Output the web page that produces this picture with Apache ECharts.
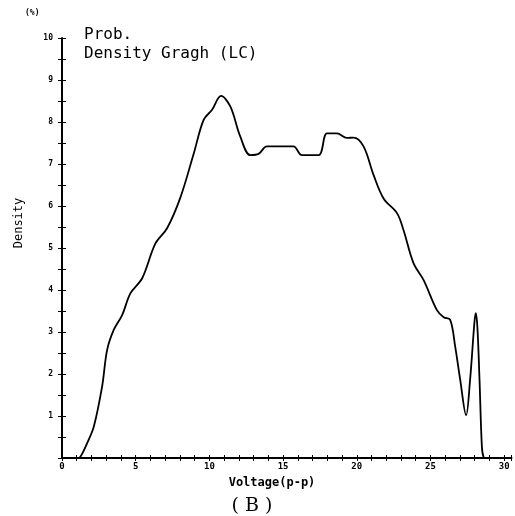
<!DOCTYPE html>
<html>
<head>
<meta charset="utf-8">
<script src="https://cdn.jsdelivr.net/npm/echarts@6/dist/echarts.min.js"></script>
<style>html,body{margin:0;padding:0;background:#fff}#c{width:515px;height:516px}</style>
</head>
<body>
<div id="c"></div>
<script>
var voltage = [0, 0.5, 1.0, 1.25, 1.7, 2.16, 2.72, 3.06, 3.51, 4.08, 4.64, 5.44, 6.34, 7.13, 8.03, 8.94, 9.61, 10.18, 10.79, 11.42, 12.1, 12.78, 13.34, 13.9, 14.81, 15.71, 16.28, 17.41, 17.98, 18.66, 19.33, 19.78, 20.46, 21.14, 21.82, 22.73, 23.17, 23.85, 24.53, 25.44, 25.9, 26.34, 26.68, 27.02, 27.42, 27.69, 27.99, 28.08, 28.19, 28.33, 28.49, 28.6, 28.8, 29.2];
var density = [0, -0.03, -0.02, 0.03, 0.35, 0.75, 1.70, 2.57, 3.05, 3.40, 3.92, 4.28, 5.11, 5.47, 6.2, 7.25, 8.05, 8.29, 8.62, 8.37, 7.65, 7.21, 7.24, 7.42, 7.42, 7.42, 7.21, 7.21, 7.73, 7.73, 7.62, 7.63, 7.42, 6.74, 6.18, 5.83, 5.43, 4.64, 4.24, 3.52, 3.35, 3.29, 2.65, 1.86, 1.02, 1.86, 3.25, 3.45, 3.09, 1.86, 0.27, 0.03, -0.02, 0];
var xTickLabels = [0, 5, 10, 15, 20, 25, 30];
var yTickLabels = [1, 2, 3, 4, 5, 6, 7, 8, 9, 10];

var pts = voltage.map(function (v, i) { return [v, density[i]]; });
var chart = echarts.init(document.getElementById('c'), null, {renderer: 'canvas'});
var mono = 'DejaVu Sans Mono';
var xCommon = {
  type: 'value', min: 0, max: 30.5, interval: 1,
  splitLine: {show: false}
};
chart.setOption({
  animation: false,
  backgroundColor: '#fff',
  grid: {left: 62, right: 3.5, top: 38, bottom: 58, containLabel: false},
  title: [
    {text: 'Prob.\nDensity Gragh (LC)', left: 84, top: 25, padding: 0,
     textStyle: {fontFamily: mono, fontSize: 16, fontWeight: 'normal', color: '#000', lineHeight: 19}},
    {text: '(%)', left: 25, top: 9, padding: 0,
     textStyle: {fontFamily: mono, fontSize: 8, fontWeight: 'bold', color: '#000'}},
    {text: 'Voltage(p-p)', left: 272, top: 477, textAlign: 'center', padding: 0,
     textStyle: {fontFamily: mono, fontSize: 12, fontWeight: 'bold', color: '#000'}},
    {text: '( B )', left: 252, top: 497, textAlign: 'center', padding: 0,
     textStyle: {fontFamily: 'DejaVu Serif', fontSize: 19, fontWeight: 'normal', color: '#000'}}
  ],
  graphic: [{
    type: 'text', x: 19, y: 223, rotation: Math.PI / 2,
    style: {text: 'Density', font: '12px "DejaVu Sans Mono"', fill: '#000', textAlign: 'center', textVerticalAlign: 'middle'}
  }],
  xAxis: [
    Object.assign({}, xCommon, {
      axisLine: {show: true, lineStyle: {color: '#000', width: 2}},
      axisTick: {show: true, length: 3, lineStyle: {color: '#000', width: 1}},
      axisLabel: {
        margin: 4, color: '#000', fontFamily: mono, fontSize: 9, fontWeight: 'bold',
        formatter: function (v) { return xTickLabels.indexOf(v) >= 0 ? String(v) : ''; }
      }
    }),
    Object.assign({}, xCommon, {
      position: 'bottom',
      axisLine: {show: false},
      axisTick: {show: true, inside: true, length: 3, lineStyle: {color: '#000', width: 1}},
      axisLabel: {show: false}
    })
  ],
  yAxis: [
    {
      type: 'value', min: 0, max: 10, interval: 0.5,
      splitLine: {show: false},
      axisLine: {show: true, lineStyle: {color: '#000', width: 2}},
      axisTick: {show: true, length: 4, lineStyle: {color: '#000', width: 1}},
      axisLabel: {
        margin: 9, color: '#000', fontFamily: mono, fontSize: 8, fontWeight: 'bold',
        formatter: function (v) { return yTickLabels.indexOf(v) >= 0 ? String(v) : ''; }
      }
    },
    {
      type: 'value', min: 0, max: 10, interval: 0.5, position: 'left',
      splitLine: {show: false},
      axisLine: {show: false},
      axisTick: {show: true, inside: true, length: 4, lineStyle: {color: '#000', width: 1}},
      axisLabel: {show: false}
    }
  ],
  series: [{
    type: 'line', data: pts, xAxisIndex: 0, yAxisIndex: 0,
    smooth: 0.35, showSymbol: false, symbol: 'none',
    lineStyle: {color: '#000', width: 1.8}
  }]
});
</script>
</body>
</html>
